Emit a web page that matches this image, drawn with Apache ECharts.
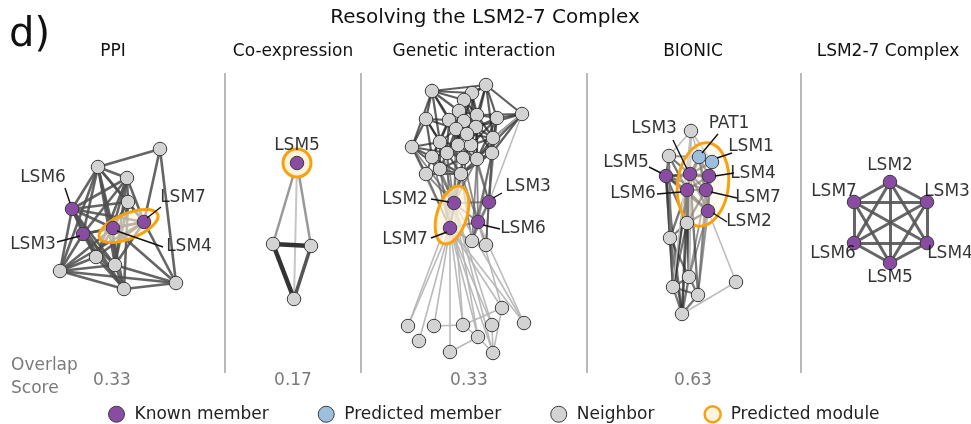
<!DOCTYPE html>
<html><head><meta charset="utf-8">
<script src="https://cdn.jsdelivr.net/npm/echarts@6/dist/echarts.min.js"></script>
<style>html,body{margin:0;padding:0;background:#fff}#c{width:971px;height:424px}</style>
</head><body><div id="c"></div>
<script>
// ---------------- DATA ----------------
const mainTitle = 'Resolving the LSM2-7 Complex';
const panelTitles = ['PPI', 'Co-expression', 'Genetic interaction', 'BIONIC', 'LSM2-7 Complex'];
const overlapScores = ['0.33', '0.17', '0.33', '0.63'];
const legendNames = ['Known member', 'Predicted member', 'Neighbor', 'Predicted module'];

// nodes: [x, y, kind]  kind: k = known member, p = predicted member, n = neighbor
const ppiNodes = [
  [160,149,'n'],[98,167,'n'],[127,178,'n'],[128,202,'n'],
  [72,209,'k'],[144,222,'k'],[113,228,'k'],[83,234,'k'],
  [96,257,'n'],[115,265,'n'],[60,271,'n'],[124,289,'n'],[176,283,'n']
];
const ppiEdges = [
  [0,1],[0,12],[0,5],
  [1,4],[1,10],[1,7],[1,2],[1,3],[1,5],[1,6],[1,9],[1,11],
  [2,4],[2,3],[2,6],[2,7],[2,8],[2,9],[2,5],
  [3,4],[3,5],[3,6],[3,9],[3,11],
  [4,7],[4,10],[4,6],[4,5],[4,9],[4,11],[4,8],
  [7,10],[7,6],[7,5],[7,8],[7,9],[7,11],
  [6,5],[6,10],[6,8],[6,9],[6,12],
  [5,9],[5,10],[5,12],[5,8],
  [10,8],[10,9],[10,11],[10,12],
  [8,11],[9,11],[11,12],[9,12]
];
const ppiLabels = [[43,178,'LSM6'],[33,245,'LSM3'],[183,198,'LSM7'],[189,247,'LSM4']];
const ppiLeaders = [[[65,188],[70,203]],[[57,242],[80,236]],[[161,207],[147,218]],[[163,247],[117,231]]];
const ppiModules = [[128.5,226,31.5,12.5,22]]; // cx, cy, rx, ry, tilt(deg)

const coexNodes = [[297,163,'k'],[273,244,'n'],[311,246,'n'],[294,299,'n']];
const coexEdges = [[0,1,'m'],[0,2,'m'],[0,3,'l'],[1,2,'d'],[1,3,'d'],[2,3,'d2']];
const coexLabels = [[297,146,'LSM5']];
const coexLeaders = [];
const coexModules = [[297,163,14,14,0]];

const genNodes = [
  [432,91,'n'],[486,85,'n'],[472,93,'n'],[464,100,'n'],[522,114,'n'],[426,119,'n'],
  [449,120,'n'],[459,111,'n'],[477,115,'n'],[497,118,'n'],[464,121,'n'],[456,129,'n'],
  [476,127,'n'],[412,147,'n'],[440,142,'n'],[458,145,'n'],[471,145,'n'],[493,138,'n'],
  [432,157,'n'],[447,153,'n'],[463,158,'n'],[477,159,'n'],[492,153,'n'],[426,174,'n'],
  [440,169,'n'],[461,174,'n'],[467,134,'n'],
  [454,203,'k'],[489,202,'k'],[478,222,'k'],[450,228,'k'],
  [472,241,'n'],[486,245,'n'],
  [408,326,'n'],[434,326,'n'],[463,325,'n'],[492,325,'n'],[502,308,'n'],[524,323,'n'],
  [419,341,'n'],[478,337,'n'],[450,352,'n'],[493,353,'n']
];
// dense core: neighbours of node i (index in list = i)
const genCoreAdj = [
  [2,3,5,6,7,11,14,13,1],[2,3,8,9,4,12,17],[3,7,8,10,12,16],[6,7,8,10,11,12,16,15],[9,8,17,12,22,21],
  [6,11,13,14,18,19],[7,10,11,14,15,19,16,18],[8,10,11,12,15],[9,10,12,16,17,21],[12,17,22,16,21],
  [11,12,15,16,26,19],[14,15,19,26,20],[16,17,26,21,22],[14,18,19,23,24],[15,18,19,24,20],
  [16,19,20,26,21],[17,20,21,26],[21,22,26],[19,23,24,25],[20,24,25,21],[21,24,25],[22,25],[25],[24,25],[25]
];
const genEdgesMid = [
  [27,11],[27,14],[27,15],[27,18],[27,19],[27,20],[27,23],[27,24],[27,25],[27,16],[27,21],
  [28,17],[28,21],[28,22],[28,9],[28,16],[29,21],[29,22],[29,25],[29,20],
  [30,23],[30,24],[30,25],[30,19],[30,18],[30,13],[27,13],
  [27,30],[27,29],[27,28],[28,29],[29,30],[28,31],[28,32],[29,31],[29,32],[31,32],[30,31],
  [31,22],[31,25],[32,22],[32,17],[31,21]
];
const genEdgesLight = [
  [30,33],[30,34],[30,35],[30,36],[30,37],[30,38],[30,39],[30,40],[30,41],[30,42],
  [27,33],[27,35],[27,36],[27,38],[27,40],[27,42],[29,37],[29,38],[4,28],[4,17],
  [34,35],[35,37],[40,41],[40,42],[36,42],[37,42],[35,40]
];
const genLabels = [[405,200,'LSM2'],[528,187,'LSM3'],[523,229,'LSM6'],[405,240,'LSM7']];
const genLeaders = [[[431,199],[449,202]],[[502,193],[493,198]],[[500,229],[483,225]],[[431,238],[447,232]]];
const genModules = [[452,215,15,30,-17]];

const bioNodes = [
  [691,131,'n'],[669,156,'n'],[699,157,'p'],[712,162,'p'],[666,176,'k'],[690,174,'k'],
  [709,176,'k'],[687,190,'k'],[706,190,'k'],[708,211,'k'],[687,223,'n'],[670,238,'n'],
  [689,277,'n'],[736,282,'n'],[673,287,'n'],[698,295,'n'],[682,314,'n']
];
const bioEdges = [
  [2,3,'d'],[2,5,'d'],[2,6,'d'],[2,7,'d'],[2,8,'d'],[3,6,'d'],[3,8,'d'],[3,5,'d'],[4,5,'d'],
  [4,7,'d'],[4,6,'d'],[4,8,'d'],[5,6,'d'],[5,7,'d'],[5,8,'d'],[5,9,'d'],[6,7,'d'],[6,8,'d'],
  [6,9,'d'],[7,8,'d'],[7,9,'d'],[8,9,'d'],[3,9,'d'],[2,9,'d'],[4,9,'d'],[1,5,'d'],[1,4,'d'],
  [1,7,'d'],[1,2,'m'],[10,7,'d'],[10,8,'d'],[10,9,'d'],[10,5,'d'],[10,4,'d'],
  [4,11,'d'],[4,14,'d'],[4,16,'d'],[7,11,'d'],[7,14,'d'],[7,16,'d'],[7,12,'d'],[5,14,'d'],
  [5,16,'d'],[5,12,'d'],[10,11,'d'],[10,12,'d'],[10,14,'d'],[11,14,'d'],[11,16,'d'],
  [11,12,'d'],[12,14,'d'],[12,15,'d'],[12,16,'d'],[14,15,'d'],[14,16,'d'],[15,16,'d'],
  [8,12,'m'],[8,15,'m'],[9,12,'m'],[9,15,'m'],[6,15,'m'],[5,15,'d'],[1,11,'m'],
  [0,1,'l'],[0,2,'l'],[0,5,'l'],[0,3,'l'],[0,7,'l'],[0,14,'l'],[0,12,'l'],
  [9,13,'l'],[13,16,'l'],[1,14,'m']
];
const bioLabels = [[654,129,'LSM3'],[729,124,'PAT1'],[751,147,'LSM1'],[626,163,'LSM5'],
  [753,174,'LSM4'],[633,194,'LSM6'],[758,198,'LSM7'],[749,222,'LSM2']];
const bioLeaders = [[[673,140],[687,169]],[[718,134],[702,153]],[[732,153],[717,158]],[[649,167],[661,173]],
  [[734,173],[715,176]],[[657,194],[681,192]],[[737,198],[711,192]],[[727,222],[713,213]]];
const bioModules = [[703,184.5,25.5,42,-7]];

const cxNodes = [[890,182,'k'],[927,202,'k'],[927,243,'k'],[890,263,'k'],[854,243,'k'],[854,202,'k']];
const cxEdges = [[0,1],[0,2],[0,3],[0,4],[0,5],[1,2],[1,3],[1,4],[1,5],[2,3],[2,4],[2,5],[3,4],[3,5],[4,5]];
const cxLabels = [[890,166,'LSM2'],[947,192,'LSM3'],[950,254,'LSM4'],[890,278,'LSM5'],[833,254,'LSM6'],[834,192,'LSM7']];
const cxLeaders = [];
const cxModules = [];

// ---------------- STYLE / LAYOUT ----------------
const FONT = 'DejaVu Sans';
const panelRanges = [[0,225],[225,361],[361,587],[587,801],[801,971]];
const plotTop = 60, plotBottom = 372;
const kindStyle = {
  k: {name: 'Known member', color: '#8a4ca3'},
  p: {name: 'Predicted member', color: '#9dbfdf'},
  n: {name: 'Neighbor', color: '#d3d3d3'}
};
const moduleStroke = '#f8a10f';
const moduleFillAlpha = [0.6, 1, 0.72, 0.4, 0];

const grids = [], xAxes = [], yAxes = [], series = [];
panelRanges.forEach((r, i) => {
  grids.push({left: r[0], top: plotTop, width: r[1] - r[0], height: plotBottom - plotTop});
  xAxes.push({type: 'value', gridIndex: i, min: r[0], max: r[1], show: false});
  yAxes.push({type: 'value', gridIndex: i, min: plotTop, max: plotBottom, inverse: true, show: false});
});

function addPanel(p, nodes, edges, edgeStyle, labels, leaders, modules) {
  series.push({
    type: 'lines', coordinateSystem: 'cartesian2d', xAxisIndex: p, yAxisIndex: p, z: 1, silent: true,
    data: edges.map(e => ({
      coords: [[nodes[e[0]][0], nodes[e[0]][1]], [nodes[e[1]][0], nodes[e[1]][1]]],
      lineStyle: edgeStyle[e[2] || 'd']
    }))
  });
  if (modules.length) series.push({
    type: 'custom', name: 'Predicted module', coordinateSystem: 'cartesian2d', xAxisIndex: p, yAxisIndex: p,
    z: 2, silent: true, clip: false, data: modules,
    renderItem: (params, api) => {
      const c = api.coord([api.value(0), api.value(1)]);
      const s = api.size([api.value(2), api.value(3)]);
      return {
        type: 'ellipse', x: c[0], y: c[1], rotation: api.value(4) * Math.PI / 180,
        shape: {cx: 0, cy: 0, rx: Math.abs(s[0]), ry: Math.abs(s[1])},
        style: {fill: 'rgba(255,243,220,' + moduleFillAlpha[p] + ')', stroke: moduleStroke, lineWidth: 3}
      };
    }
  });
  ['n', 'p', 'k'].forEach(kind => {
    const d = nodes.filter(n => n[2] === kind).map(n => [n[0], n[1]]);
    if (!d.length) return;
    series.push({
      type: 'scatter', name: kindStyle[kind].name, xAxisIndex: p, yAxisIndex: p, z: 3, clip: false,
      symbol: 'circle', symbolSize: 13.5, silent: true,
      itemStyle: {color: kindStyle[kind].color, borderColor: '#3c3c3c', borderWidth: 1, opacity: 1},
      data: d
    });
  });
  if (leaders.length) series.push({
    type: 'lines', coordinateSystem: 'cartesian2d', xAxisIndex: p, yAxisIndex: p, z: 4, silent: true,
    lineStyle: {color: '#111', width: 1.4, opacity: 1},
    data: leaders.map(l => ({coords: l}))
  });
  series.push({
    type: 'scatter', xAxisIndex: p, yAxisIndex: p, z: 5, clip: false, silent: true,
    symbol: 'circle', symbolSize: 1, itemStyle: {color: 'transparent'},
    label: {show: true, position: 'inside', formatter: q => q.data[2], color: '#000', fontSize: 17, fontFamily: FONT},
    data: labels
  });
}

addPanel(0, ppiNodes, ppiEdges, {d: {color: '#505050', width: 2.6, opacity: 0.88}}, ppiLabels, ppiLeaders, ppiModules);
addPanel(1, coexNodes, coexEdges, {
  m: {color: '#999', width: 2.5, opacity: 1}, l: {color: '#c6c6c6', width: 2, opacity: 1},
  d: {color: '#333', width: 4.5, opacity: 1}, d2: {color: '#555', width: 3.5, opacity: 1}
}, coexLabels, coexLeaders, coexModules);
const genEdges = [];
genCoreAdj.forEach((nb, i) => nb.forEach(j => genEdges.push([i, j, 'd'])));
genEdgesMid.forEach(e => genEdges.push([e[0], e[1], 'm']));
genEdgesLight.forEach(e => genEdges.push([e[0], e[1], 'l']));
addPanel(2, genNodes, genEdges, {
  d: {color: '#2a2a2a', width: 2.2, opacity: 0.75}, m: {color: '#5a5a5a', width: 1.8, opacity: 0.7},
  l: {color: '#b3b3b3', width: 1.6, opacity: 0.9}
}, genLabels, genLeaders, genModules);
addPanel(3, bioNodes, bioEdges, {
  d: {color: '#2e2e2e', width: 2.3, opacity: 0.65}, m: {color: '#707070', width: 1.8, opacity: 0.75},
  l: {color: '#bdbdbd', width: 1.6, opacity: 1}
}, bioLabels, bioLeaders, bioModules);
addPanel(4, cxNodes, cxEdges, {d: {color: '#555', width: 3, opacity: 0.9}}, cxLabels, cxLeaders, cxModules);

// texts & separators
const titleX = [113, 293, 474, 693, 888];
const scoreX = [112, 293, 469, 693];
const graphic = [
  {type: 'text', x: 9, y: 36, style: {text: 'd)', fontSize: 40, fill: '#111', fontFamily: FONT, align: 'left', verticalAlign: 'middle'}},
  {type: 'text', x: 485, y: 18, style: {text: mainTitle, fontSize: 20, fill: '#111', fontFamily: FONT, align: 'center', verticalAlign: 'middle'}},
  {type: 'text', x: 11, y: 366, style: {text: 'Overlap', fontSize: 17, fill: '#7a7a7a', fontFamily: FONT, align: 'left', verticalAlign: 'middle'}},
  {type: 'text', x: 11, y: 389, style: {text: 'Score', fontSize: 17, fill: '#7a7a7a', fontFamily: FONT, align: 'left', verticalAlign: 'middle'}}
];
panelTitles.forEach((t, i) => graphic.push({type: 'text', x: titleX[i], y: 52,
  style: {text: t, fontSize: 17, fill: '#111', fontFamily: FONT, align: 'center', verticalAlign: 'middle'}}));
overlapScores.forEach((t, i) => graphic.push({type: 'text', x: scoreX[i], y: 381,
  style: {text: t, fontSize: 17, fill: '#7a7a7a', fontFamily: FONT, align: 'center', verticalAlign: 'middle'}}));
panelRanges.slice(1).forEach(r => graphic.push({type: 'line', shape: {x1: r[0], y1: 73, x2: r[0], y2: 373},
  style: {stroke: '#8a8a8a', lineWidth: 1.2}, silent: true}));

const legendIcons = [
  {color: kindStyle.k.color, borderColor: '#3c3c3c', borderWidth: 1},
  {color: kindStyle.p.color, borderColor: '#3c3c3c', borderWidth: 1},
  {color: kindStyle.n.color, borderColor: '#3c3c3c', borderWidth: 1},
  {color: '#fff4e0', borderColor: moduleStroke, borderWidth: 2.5}
];

const chart = echarts.init(document.getElementById('c'), null, {renderer: 'canvas'});
chart.setOption({
  animation: false,
  backgroundColor: '#fff',
  grid: grids, xAxis: xAxes, yAxis: yAxes,
  legend: {
    left: 108, top: 405, padding: 0, itemWidth: 16, itemHeight: 16, itemGap: 49, selectedMode: false,
    textStyle: {fontSize: 17, color: '#222', fontFamily: FONT, padding: [0, 0, 0, 5]},
    data: legendNames.map((n, i) => ({name: n, icon: 'circle', itemStyle: legendIcons[i]}))
  },
  graphic: graphic,
  series: series
});
</script></body></html>
